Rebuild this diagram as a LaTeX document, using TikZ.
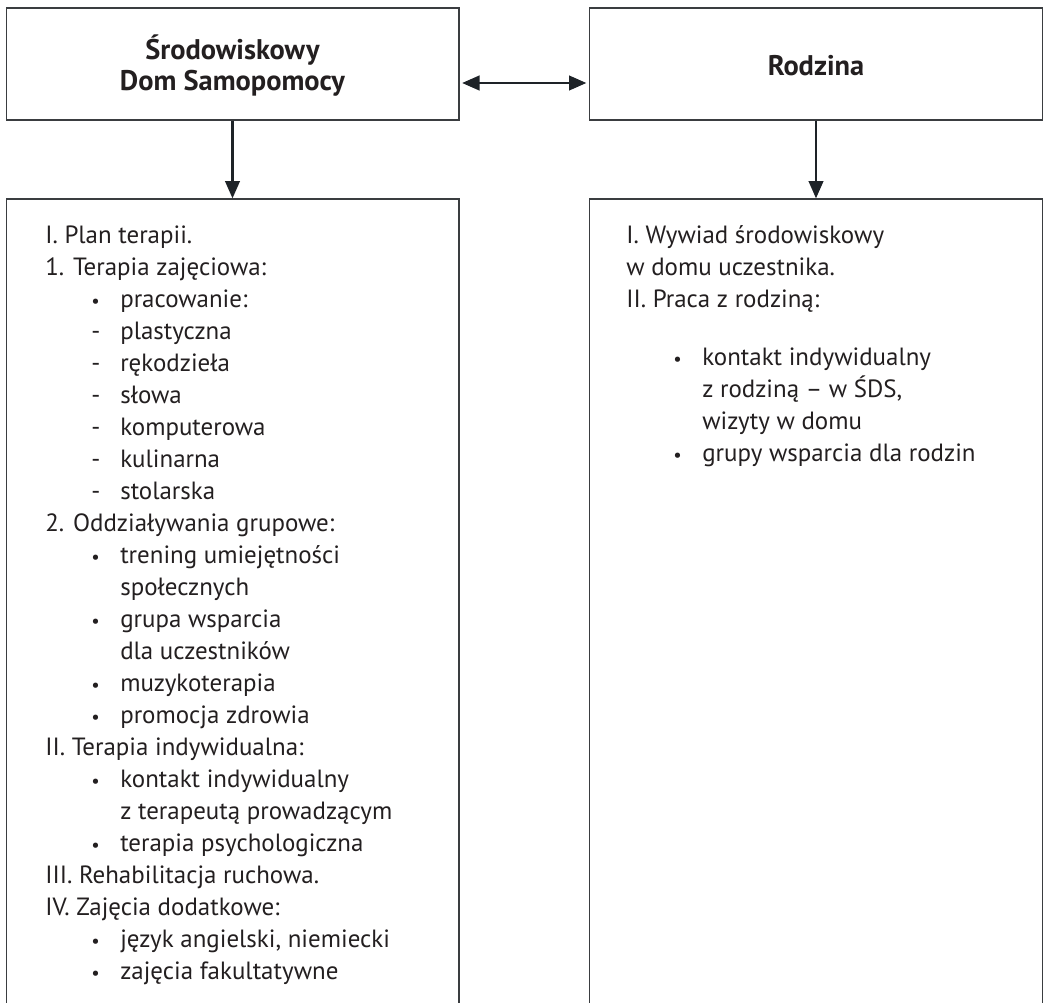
\documentclass[tikz,border=0pt]{standalone}
\usepackage{fontspec}
\setmainfont{PT Sans}
\usetikzlibrary{arrows.meta}
\definecolor{ink}{HTML}{231F20}
\definecolor{linec}{HTML}{1E2328}
\definecolor{boxc}{HTML}{3A3D40}
\newcommand{\bulletmark}{{\fontsize{14}{24}\selectfont •}}
\begin{document}
\begin{tikzpicture}[x=0.75pt,y=-0.75pt,
  box/.style={draw=boxc, line width=1pt, inner sep=0pt, minimum width=339.5pt},
  topbox/.style={box, minimum height=84pt},
  lowbox/.style={box, minimum height=608.25pt},
  title/.style={anchor=base, inner sep=0pt, text=ink, font=\fontsize{21.3}{24}\selectfont\bfseries},
  body/.style={anchor=base west, inner sep=0pt, text=ink, font=\fontsize{18.7}{24}\selectfont},
  listmark/.style={body},
  arr/.style={draw=linec, line width=1.6pt, -{Triangle[length=13pt,width=11pt]}},
  arrtwo/.style={draw=linec, line width=1.6pt, {Triangle[length=13pt,width=11pt]}-{Triangle[length=13pt,width=11pt]}, shorten <=2pt, shorten >=2pt}
]
\useasboundingbox (0,0) rectangle (1043,1003);
\clip (0,0) rectangle (1043,1003);
\fill[white] (0,0) rectangle (1043,1003);

% boxes
\node[topbox] (sds) at (232.5,64) {};
\node[topbox] (rodz) at (816,64) {};
\node[lowbox] (sdsl) at (232.5,604.5) {};
\node[lowbox] (rodzl) at (816,604.5) {};

% titles
\node[title] (t1) at (232.5,60) {Środowiskowy};
\node[title] (t2) at (232.5,90) {Dom Samopomocy};
\node[title] (t3) at (816,75) {Rodzina};

% connectors
\coordinate (ya) at (0,83);
\draw[arrtwo] (sds.east |- ya) -- (rodz.west |- ya);
\draw[arr] (sds.south) -- (sdsl.north);
\draw[arr] (rodz.south) -- (rodzl.north);

% left list: level 0 at x=45, markers at x=92, level-1 text at x=120
\foreach \k/\lx/\mk/\txt in {
  0/45//{I. Plan terapii.},
  1/45//{1. Terapia zajęciowa:},
  2/120/\bulletmark/{pracowanie:},
  3/120/-/{plastyczna},
  4/120/-/{rękodzieła},
  5/120/-/{słowa},
  6/120/-/{komputerowa},
  7/120/-/{kulinarna},
  8/120/-/{stolarska},
  9/45//{2. Oddziaływania grupowe:},
  10/120/\bulletmark/{trening umiejętności},
  11/120//{społecznych},
  12/120/\bulletmark/{grupa wsparcia},
  13/120//{dla uczestników},
  14/120/\bulletmark/{muzykoterapia},
  15/120/\bulletmark/{promocja zdrowia},
  16/45//{II. Terapia indywidualna:},
  17/120/\bulletmark/{kontakt indywidualny},
  18/120//{z terapeutą prowadzącym},
  19/120/\bulletmark/{terapia psychologiczna},
  20/45//{III. Rehabilitacja ruchowa.},
  21/45//{IV. Zajęcia dodatkowe:},
  22/120/\bulletmark/{język angielski, niemiecki},
  23/120/\bulletmark/{zajęcia fakultatywne}}
{
  \node[body] (L\k) at (\lx,243+32*\k) {\txt};
  \node[listmark] (M\k) at (91,243+32*\k) {\mk};
}

% right list
\foreach \k/\yy/\lx/\mk/\txt in {
  0/243/626//{I. Wywiad środowiskowy},
  1/275/626//{w domu uczestnika.},
  2/307/626//{II. Praca z rodziną:},
  3/365/702/\bulletmark/{kontakt indywidualny},
  4/397/702//{z rodziną – w ŚDS,},
  5/429/702//{wizyty w domu},
  6/461/702/\bulletmark/{grupy wsparcia dla rodzin}}
{
  \node[body] (R\k) at (\lx,\yy) {\txt};
  \node[listmark] (N\k) at (673,\yy) {\mk};
}
\end{tikzpicture}
\end{document}
